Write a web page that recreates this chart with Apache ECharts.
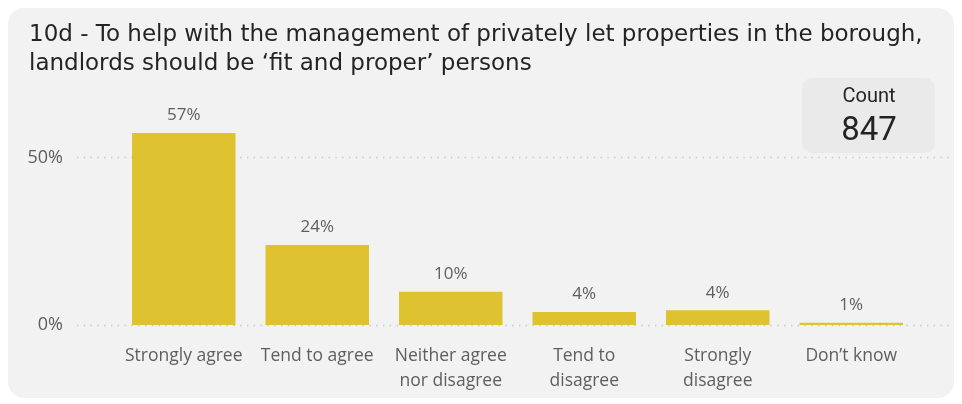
<!DOCTYPE html>
<html>
<head>
<meta charset="utf-8">
<script src="https://cdn.jsdelivr.net/npm/echarts@6/dist/echarts.min.js"></script>
<style>
html,body{margin:0;padding:0;background:#fff;}
#c{width:962px;height:404px;}
</style>
</head>
<body>
<div id="c"></div>
<script>
const titleText = "10d - To help with the management of privately let properties in the borough,\nlandlords should be \u2018fit and proper\u2019 persons";
const categories = ["Strongly agree", "Tend to agree", "Neither agree\nnor disagree", "Tend to\ndisagree", "Strongly\ndisagree", "Don\u2019t know"];
const shares = [0.574, 0.239, 0.099, 0.039, 0.044, 0.007];
const shareLabels = ["57%", "24%", "10%", "4%", "4%", "1%"];
const yTicks = [0, 0.5];
const countLabel = "Count";
const countValue = "847";

const chart = echarts.init(document.getElementById('c'), null, {renderer: 'canvas'});
const labelFont = '"Open Sans", "Noto Sans", sans-serif';
const titleFont = '"DejaVu Sans", sans-serif';
const cardFont = 'Roboto, "Noto Sans", sans-serif';

chart.setOption({
  backgroundColor: '#ffffff',
  animation: false,
  title: {
    text: titleText,
    left: 24, top: 16,
    textStyle: {fontFamily: titleFont, fontSize: 23, fontWeight: 'normal', color: '#252423', lineHeight: 29}
  },
  graphic: [
    {type: 'rect', z: -10, shape: {x: 8, y: 8, width: 946, height: 390, r: 16}, style: {fill: '#f2f2f2'}},
    {type: 'rect', z: -5, shape: {x: 802, y: 78, width: 133, height: 75, r: 10}, style: {fill: '#eaeaea'}},
    {type: 'text', x: 869, y: 97, style: {text: countLabel, fontFamily: cardFont, fontSize: 20, fill: '#252423', align: 'center', verticalAlign: 'middle'}},
    {type: 'text', x: 869, y: 132, style: {text: countValue, fontFamily: cardFont, fontSize: 33, fill: '#252423', align: 'center', verticalAlign: 'middle'}}
  ],
  grid: [
    {left: 117, right: 44, top: 124.24, bottom: 79},
    {left: 77, right: 12, top: 157.7, bottom: 79}
  ],
  xAxis: [
    {
      type: 'category', gridIndex: 0, data: categories,
      axisLine: {show: false}, axisTick: {show: false},
      axisLabel: {interval: 0, margin: 19, fontFamily: labelFont, fontSize: 17.5, lineHeight: 24.7, color: '#605e5c'}
    },
    {type: 'value', gridIndex: 1, show: false}
  ],
  yAxis: [
    {type: 'value', gridIndex: 0, min: 0, max: 0.6, show: false, splitLine: {show: false}},
    {
      type: 'value', gridIndex: 1, min: yTicks[0], max: yTicks[yTicks.length - 1], interval: 0.5,
      axisLine: {show: false}, axisTick: {show: false},
      axisLabel: {margin: 14, fontFamily: labelFont, fontSize: 18, color: '#605e5c', formatter: v => Math.round(v * 100) + '%'},
      splitLine: {show: true, lineStyle: {color: '#c4c4c4', width: 1.3, type: [1.3, 5.5]}}
    }
  ],
  series: [{
    type: 'bar', xAxisIndex: 0, yAxisIndex: 0,
    data: shares,
    barCategoryGap: '22.5%',
    itemStyle: {color: '#dfc22f'},
    z: 3,
    label: {
      show: true, position: 'top', distance: 9,
      fontFamily: labelFont, fontSize: 17, color: '#605e5c',
      formatter: p => shareLabels[p.dataIndex]
    }
  }]
});
</script>
</body>
</html>
